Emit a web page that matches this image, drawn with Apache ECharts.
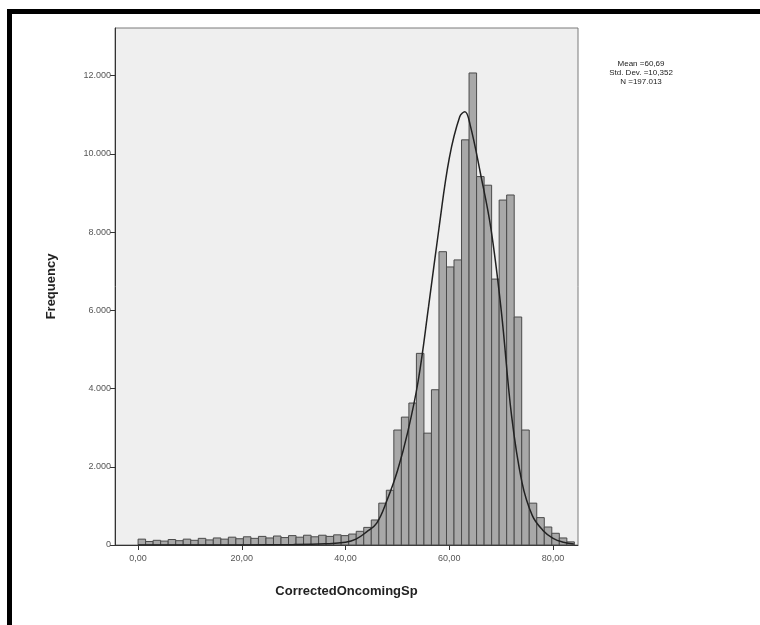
<!DOCTYPE html>
<html>
<head>
<meta charset="utf-8">
<script src="https://cdn.jsdelivr.net/npm/echarts@6/dist/echarts.min.js"></script>
<style>
  html, body { margin: 0; padding: 0; background: #fff; }
  #frame { position: absolute; left: 7px; top: 9px; width: 800px; height: 700px;
           border-left: 5px solid #000; border-top: 5px solid #000; }
  #chart { position: absolute; left: 0; top: 0; width: 760px; height: 625px; }
</style>
</head>
<body>
<div id="frame"></div>
<div id="chart"></div>
<script>
// histogram bins: first edge and width (x units), counts per bin
var binStart = 0;
var binWidth = 1.45;
var counts = [
  150, 90, 120, 100, 140, 110, 150, 120, 170, 130,
  180, 150, 200, 160, 210, 170, 220, 180, 230, 190,
  240, 200, 250, 210, 250, 220, 260, 240, 280, 350,
  450, 640, 1070, 1400, 2940, 3270, 3630, 4900, 2860, 3970,
  7500, 7110, 7290, 10360, 12070, 9420, 9200, 6800, 8820, 8950,
  5830, 2940, 1070, 700, 460, 300, 180, 80
];
// normal curve
var curveX = [0, 20, 30, 36, 40, 42, 44, 46, 48, 50, 52, 54, 56, 58, 60, 62, 63, 64, 66, 68, 70, 72, 74, 76, 78, 80, 82, 84];
var curveY = [0, 2, 10, 30, 70, 150, 330, 560, 1150, 1900, 2900, 4200, 6100, 8100, 9900, 10950, 11080, 10750, 9500, 8100, 6000, 3300, 1600, 750, 380, 170, 70, 25];
var xTicks = [0, 20, 40, 60, 80];
var yTicks = [0, 2000, 4000, 6000, 8000, 10000, 12000];
var stats = ['Mean =60,69', 'Std. Dev. =10,352', 'N =197.013'];

var bars = counts.map(function (c, i) {
  return [binStart + i * binWidth, binStart + (i + 1) * binWidth, c];
});
var curve = curveX.map(function (x, i) { return [x, curveY[i]]; });

function fmtX(v) { return v.toFixed(2).replace('.', ','); }
function fmtY(v) { return v === 0 ? '0' : String(v).replace(/\B(?=(\d{3})+(?!\d))/g, '.'); }

var chart = echarts.init(document.getElementById('chart'));
chart.setOption({
  animation: false,
  textStyle: { fontFamily: 'Liberation Sans, Arial, sans-serif' },
  grid: {
    left: 115, top: 28, width: 463, height: 517,
    show: true, backgroundColor: '#efefef', borderColor: '#7a7a7a', borderWidth: 1
  },
  graphic: [{
    type: 'text', x: 641, y: 59,
    style: {
      text: stats.join('\n'), fill: '#222', font: '8px Liberation Sans, Arial, sans-serif',
      textAlign: 'center', lineHeight: 9
    }
  }],
  xAxis: {
    type: 'value', min: -4.45, max: 84.8,
    name: 'CorrectedOncomingSp', nameLocation: 'middle', nameGap: 40,
    nameTextStyle: { fontSize: 13, fontWeight: 'bold', color: '#222' },
    axisLine: { show: true, onZero: false, lineStyle: { color: '#333', width: 1 } },
    splitLine: { show: false },
    axisTick: { show: true, length: 5, inside: false, customValues: xTicks, lineStyle: { color: '#333' } },
    axisLabel: { customValues: xTicks, formatter: fmtX, fontSize: 9, color: '#555', margin: 9 }
  },
  yAxis: {
    type: 'value', min: 0, max: 13220,
    name: 'Frequency', nameLocation: 'middle', nameGap: 57,
    nameTextStyle: { fontSize: 13, fontWeight: 'bold', color: '#222' },
    axisLine: { show: true, onZero: false, lineStyle: { color: '#333', width: 1 } },
    splitLine: { show: false },
    axisTick: { show: true, length: 5, customValues: yTicks, lineStyle: { color: '#333' } },
    axisLabel: { customValues: yTicks, formatter: fmtY, fontSize: 9, color: '#555', margin: 4 }
  },
  series: [{
    type: 'custom',
    data: bars,
    encode: { x: [0, 1], y: 2 },
    renderItem: function (params, api) {
      var p0 = api.coord([api.value(0), 0]);
      var p1 = api.coord([api.value(1), api.value(2)]);
      return {
        type: 'rect',
        shape: { x: p0[0], y: p1[1], width: p1[0] - p0[0], height: p0[1] - p1[1] },
        style: { fill: '#a8a8a8', stroke: '#4a4a4a', lineWidth: 1 }
      };
    },
    z: 2
  }, {
    type: 'line', data: curve, smooth: 0.4, showSymbol: false,
    lineStyle: { color: '#222', width: 1.5 }, z: 3
  }]
});
</script>
</body>
</html>
